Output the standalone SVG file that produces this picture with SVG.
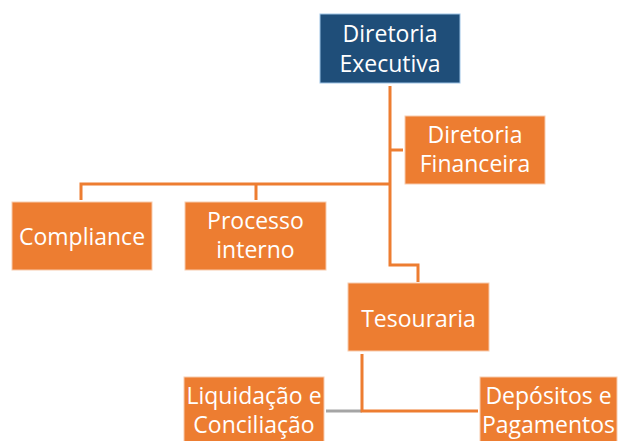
<svg xmlns="http://www.w3.org/2000/svg" width="619" height="441" viewBox="0 0 619 441">
<style>
.box{fill:#ED7D31;stroke:#F8CBAD;stroke-width:1}
.dark{fill:#1F4E79;stroke:#9DC3E6;stroke-width:1}
text{font-family:"Open Sans","Noto Sans",sans-serif;font-size:23px;fill:#FFFFFF;text-anchor:middle}
.ln{fill:none;stroke:#ED7D31;stroke-width:3}
.gr{fill:none;stroke:#A5A5A5;stroke-width:3}
</style>
<rect width="619" height="441" fill="#FFFFFF"/>
<g id="connectors">
<polyline class="ln" points="390,86 390,265 418,265 418,282"/>
<polyline class="ln" points="390,150 403,150"/>
<polyline class="ln" points="390,184 81,184 81,200"/>
<polyline class="ln" points="256,184 256,200"/>
<line class="gr" x1="326" y1="411" x2="362" y2="411"/>
<polyline class="ln" points="362,354 362,411 478,411"/>
</g>
<g id="exec">
<rect class="dark" x="320" y="14" width="140" height="69"/>
<text x="390" y="42">Diretoria</text>
<text x="390" y="72">Executiva</text>
</g>
<g id="financeira">
<rect class="box" x="405" y="116" width="140" height="68"/>
<text x="475" y="143">Diretoria</text>
<text x="475" y="172">Financeira</text>
</g>
<g id="compliance">
<rect class="box" x="12" y="202" width="140" height="68"/>
<text x="82" y="245">Compliance</text>
</g>
<g id="processo">
<rect class="box" x="185" y="202" width="141" height="68"/>
<text x="255.5" y="229">Processo</text>
<text x="255.5" y="258">interno</text>
</g>
<g id="tesouraria">
<rect class="box" x="348" y="283" width="141" height="68"/>
<text x="418.5" y="327">Tesouraria</text>
</g>
<g id="liquidacao">
<rect class="box" x="184" y="377" width="140" height="70"/>
<text x="254" y="404">Liquidação e</text>
<text x="254" y="433">Conciliação</text>
</g>
<g id="depositos">
<rect class="box" x="480" y="377" width="137" height="70"/>
<text x="548.5" y="404">Depósitos e</text>
<text x="548.5" y="433">Pagamentos</text>
</g>
</svg>
